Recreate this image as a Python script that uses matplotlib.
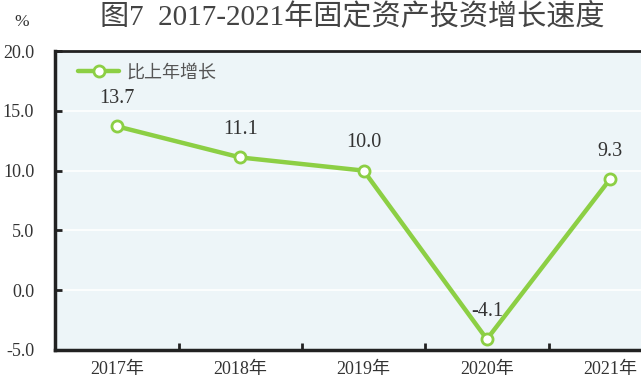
import matplotlib
matplotlib.use("Agg")
import matplotlib.pyplot as plt
from matplotlib.ticker import FixedLocator

years = ["2017年", "2018年", "2019年", "2020年", "2021年"]
growth = [13.7, 11.1, 10.0, -4.1, 9.3]
yticks = [-5.0, 0.0, 5.0, 10.0, 15.0, 20.0]
series_name = "比上年增长"
title = "图7  2017-2021年固定资产投资增长速度"

FAM = ["Liberation Serif", "Noto Sans CJK SC"]
plt.rcParams["font.family"] = FAM
TXT = "#333333"
GREEN = "#8CCF44"

fig = plt.figure(figsize=(6.41, 3.81), dpi=100)
W, H = 641, 381
ax = fig.add_axes([55 / W, (H - 350) / H, 1 - 55 / W, (350 - 51) / H])
ax.set_facecolor("#EDF5F8")

x = list(range(len(years)))
ax.plot(x, growth, color=GREEN, lw=3.2, marker="o", markersize=8,
        markerfacecolor="white", markeredgecolor=GREEN, markeredgewidth=2,
        label=series_name, zorder=3, solid_capstyle="round")

for xi, v in zip(x, growth):
    ax.annotate(f"{v:.1f}", (xi, v), xytext=(0, 20), textcoords="offset points",
                ha="center", va="center", fontsize=14.5, color=TXT, family=FAM)

ax.set_xlim(-0.503, 4.25)
ax.set_ylim(-5, 20)
ax.set_yticks(yticks)
ax.set_yticklabels([f"{t:.1f}" for t in yticks])
ax.yaxis.grid(True, color="white", lw=1.2)
ax.set_axisbelow(True)

ax.set_xticks(x)
ax.set_xticklabels(years)
ax.xaxis.set_minor_locator(FixedLocator([0.5, 1.5, 2.5, 3.5]))
ax.tick_params(axis="x", which="major", length=0, pad=8, labelsize=13, labelcolor=TXT)
ax.tick_params(axis="x", which="minor", direction="in", length=5, width=2, color="#222222")
ax.tick_params(axis="y", direction="in", length=5, width=2, color="#222222",
               pad=15, labelsize=13, labelcolor=TXT)

for s in ["left", "bottom"]:
    ax.spines[s].set_linewidth(2.5)
    ax.spines[s].set_color("#222222")
ax.spines["top"].set_linewidth(2)
ax.spines["top"].set_color("#222222")
ax.spines["right"].set_visible(False)

leg = ax.legend(loc="upper left", bbox_to_anchor=(0.039, 0.955), frameon=False,
                borderpad=0, borderaxespad=0, handlelength=2.3, handletextpad=0.4,
                fontsize=13, labelcolor="#555555")

fig.text(22 / W, 1 - 22 / H, "%", ha="center", va="center", fontsize=12.5, color=TXT)
fig.text(352 / W, 1 - 16 / H, title, ha="center", va="center", fontsize=21, color="#444444")

fig.savefig("out.png", dpi=100)
